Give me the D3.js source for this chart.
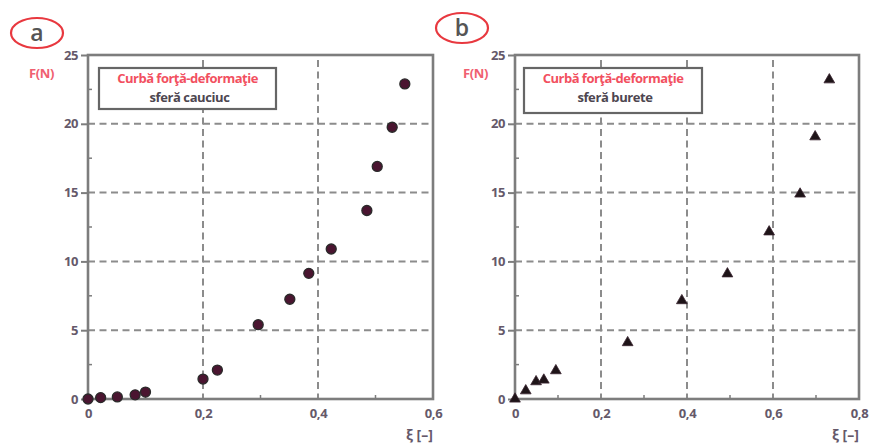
<!DOCTYPE html>
<html>
<head>
<meta charset="utf-8">
<script src="https://cdn.jsdelivr.net/npm/d3@7"></script>
<style>
  body { margin: 0; background: #fff; }
  text { font-family: "Open Sans", sans-serif; }
</style>
</head>
<body>
<svg width="873" height="445"></svg>
<script>
// panel a - rubber sphere
const xiA = [0, 0.022, 0.051, 0.082, 0.1, 0.2, 0.225, 0.296, 0.351, 0.384, 0.423, 0.485, 0.503, 0.529, 0.551];
const fA  = [0, 0.1, 0.15, 0.3, 0.5, 1.45, 2.1, 5.4, 7.25, 9.13, 10.9, 13.7, 16.9, 19.75, 22.9];
// panel b - sponge sphere
const xiB = [0, 0.025, 0.049, 0.067, 0.095, 0.262, 0.388, 0.494, 0.591, 0.663, 0.698, 0.731];
const fB  = [0, 0.6, 1.26, 1.38, 2.06, 4.1, 7.15, 9.1, 12.15, 14.9, 19.06, 23.2];

const yTicks = [0, 5, 10, 15, 20, 25];
const yMinor = [2.5, 7.5, 12.5, 17.5, 22.5];
const xTicksA = [0, 0.2, 0.4, 0.6];
const xMinorA = [0.1, 0.3, 0.5];
const xTicksB = [0, 0.2, 0.4, 0.6, 0.8];
const xMinorB = [0.1, 0.3, 0.5, 0.7];

const svg = d3.select("svg");
const gridCol = "#8c8c8c";
const axisCol = "#7d7d7d";
const labelCol = "#65596a";
const fmt = d => d === 0 ? "0" : d3.format(".1f")(d).replace(".", ",");

function panel(o) {
  const x = d3.scaleLinear().domain([0, o.xMax]).range([o.left, o.right]);
  const y = d3.scaleLinear().domain([0, 25]).range([o.bottom, o.top]);
  const g = svg.append("g");

  // gridlines
  g.append("g").selectAll("line").data(yTicks.slice(1, -1)).join("line")
    .attr("x1", o.left).attr("x2", o.right)
    .attr("y1", d => y(d)).attr("y2", d => y(d))
    .attr("stroke", gridCol).attr("stroke-width", 2).attr("stroke-dasharray", "7,4.5");
  g.append("g").selectAll("line").data(o.xTicks.slice(1, -1)).join("line")
    .attr("x1", d => x(d)).attr("x2", d => x(d))
    .attr("y1", o.top + 5).attr("y2", o.bottom)
    .attr("stroke", gridCol).attr("stroke-width", 2).attr("stroke-dasharray", "7,4.5");

  // axes
  const yAxis = g.append("g").attr("transform", `translate(${o.left},0)`)
    .call(d3.axisLeft(y).tickValues(yTicks).tickSize(7).tickPadding(3).tickFormat(d => d));
  const xAxis = g.append("g").attr("transform", `translate(0,${o.bottom})`)
    .call(d3.axisBottom(x).tickValues(o.xTicks).tickSize(0).tickPadding(10).tickFormat(fmt));
  [yAxis, xAxis].forEach(a => {
    a.select(".domain").remove();
    a.selectAll("line").attr("stroke", axisCol).attr("stroke-width", 2);
    a.selectAll("text").attr("fill", labelCol).attr("font-size", 13).attr("font-weight", 700)
      .attr("letter-spacing", -0.4);
  });

  // minor ticks
  g.append("g").selectAll("line").data(yMinor).join("line")
    .attr("x1", o.left).attr("x2", o.left + 4)
    .attr("y1", d => y(d)).attr("y2", d => y(d))
    .attr("stroke", axisCol).attr("stroke-width", 1.5);
  g.append("g").selectAll("line").data(o.xMinor).join("line")
    .attr("x1", d => x(d)).attr("x2", d => x(d))
    .attr("y1", o.bottom).attr("y2", o.bottom - 4)
    .attr("stroke", axisCol).attr("stroke-width", 1.5);

  // frame
  g.append("rect")
    .attr("x", o.left).attr("y", o.top)
    .attr("width", o.right - o.left).attr("height", o.bottom - o.top)
    .attr("fill", "none").attr("stroke", axisCol).attr("stroke-width", 2.6);

  // legend box
  const lg = g.append("g");
  lg.append("rect").attr("x", o.lx).attr("y", 68).attr("width", o.lw).attr("height", o.lh)
    .attr("fill", "#fff").attr("stroke", "#666").attr("stroke-width", 2.2);
  lg.append("text").attr("x", o.lx + o.lw / 2).attr("y", 83).attr("text-anchor", "middle")
    .attr("fill", "#f2505f").attr("font-size", 13).attr("font-weight", 700)
    .attr("letter-spacing", -0.5)
    .text("Curbă forţă-deformaţie");
  lg.append("text").attr("x", o.lx + o.lw / 2 + 2).attr("y", 102).attr("text-anchor", "middle")
    .attr("fill", "#4d4650").attr("font-size", 13).attr("font-weight", 700)
    .attr("letter-spacing", -0.4)
    .text(o.sub);

  // markers
  const pts = o.xs.map((v, i) => [v, o.fs[i]]);
  if (o.shape === "circle") {
    g.append("g").selectAll("circle").data(pts).join("circle")
      .attr("cx", d => x(d[0])).attr("cy", d => y(d[1])).attr("r", 5)
      .attr("fill", "#4a1530").attr("stroke", "#2a2a2a").attr("stroke-width", 1.3);
  } else {
    const tri = d3.symbol().type(d3.symbolTriangle).size(50);
    g.append("g").selectAll("path").data(pts).join("path")
      .attr("transform", d => `translate(${x(d[0])},${y(d[1])})`)
      .attr("d", tri).attr("fill", "#1e1418").attr("stroke", "#3a2430").attr("stroke-width", 0.8);
  }

  // axis titles
  g.append("text").attr("x", o.fx).attr("y", 78).attr("fill", "#f06070")
    .attr("font-size", 13).attr("font-weight", 700).attr("letter-spacing", -0.4).text("F(N)");
  g.append("text").attr("x", o.right - 27).attr("y", 440).attr("fill", labelCol)
    .attr("font-size", 14).attr("font-weight", 700).text("ξ [–]");

  // circled panel letter
  g.append("ellipse").attr("cx", o.cx).attr("cy", o.cy).attr("rx", 26).attr("ry", 15)
    .attr("fill", "none").attr("stroke", "#e8383f").attr("stroke-width", 2.2);
  g.append("text").attr("x", o.cx).attr("y", o.cy + 8).attr("text-anchor", "middle")
    .attr("fill", "#555").attr("font-size", 23).attr("font-weight", 600).text(o.letter);
}

panel({ left: 88, right: 433, top: 55, bottom: 399, xMax: 0.6,
  xTicks: xTicksA, xMinor: xMinorA, xs: xiA, fs: fA, shape: "circle",
  lx: 99, lw: 177, lh: 41, sub: "sferă cauciuc", fx: 29, cx: 37, cy: 33, letter: "a" });
panel({ left: 515, right: 859, top: 55, bottom: 399, xMax: 0.8,
  xTicks: xTicksB, xMinor: xMinorB, xs: xiB, fs: fB, shape: "triangle",
  lx: 524, lw: 178, lh: 45, sub: "sferă burete", fx: 463, cx: 462, cy: 28, letter: "b" });
</script>
</body>
</html>
